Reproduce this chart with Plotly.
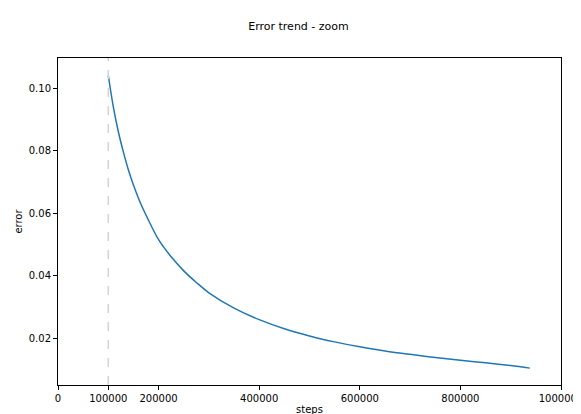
import plotly.graph_objects as go

# data
steps = [100000, 110000, 120000, 130000, 140000, 150000, 165000, 180000, 200000,
         225000, 250000, 275000, 300000, 350000, 400000, 450000, 500000, 550000,
         600000, 650000, 700000, 750000, 800000, 850000, 900000, 938000]
errors = [0.1040, 0.0940, 0.0860, 0.0795, 0.0738, 0.0690, 0.0628, 0.0577, 0.0515,
          0.0460, 0.0415, 0.0378, 0.0345, 0.0296, 0.0259, 0.0230, 0.0207, 0.0188,
          0.0172, 0.0159, 0.0148, 0.0138, 0.0129, 0.0121, 0.0112, 0.0104]
zoom_start = 100000
x_ticks = [0, 100000, 200000, 400000, 600000, 800000, 1000000]
y_ticks = [0.02, 0.04, 0.06, 0.08, 0.10]

fig = go.Figure()
fig.add_trace(go.Scatter(x=steps, y=errors, mode="lines", line=dict(color="#1f77b4", width=1.5, shape="spline")))
fig.add_vline(x=zoom_start, line=dict(color="lightgray", width=1.5, dash="dash"))

axis = dict(showgrid=False, zeroline=False, showline=True, linecolor="black", mirror=True,
            ticks="outside", ticklen=4, tickcolor="black", automargin=False,
            tickfont=dict(size=10))
fig.update_layout(
    width=581, height=414,
    margin=dict(l=50, r=28, t=50, b=37),
    plot_bgcolor="white", paper_bgcolor="white",
    font=dict(family="DejaVu Sans", size=10, color="black"),
    title=dict(text="Error trend - zoom", x=0.5, xanchor="center", y=0.965, font=dict(size=11)),
    showlegend=False,
    xaxis=dict(axis, range=[0, 1000000], tickvals=x_ticks, ticktext=[str(v) for v in x_ticks],
               title=dict(text="steps", standoff=2, font=dict(size=10))),
    yaxis=dict(axis, range=[0.005, 0.1096], tickvals=y_ticks, ticktext=["%.2f" % v for v in y_ticks],
               title=dict(text="error", standoff=4, font=dict(size=10))),
)
fig.write_html("out.html")
